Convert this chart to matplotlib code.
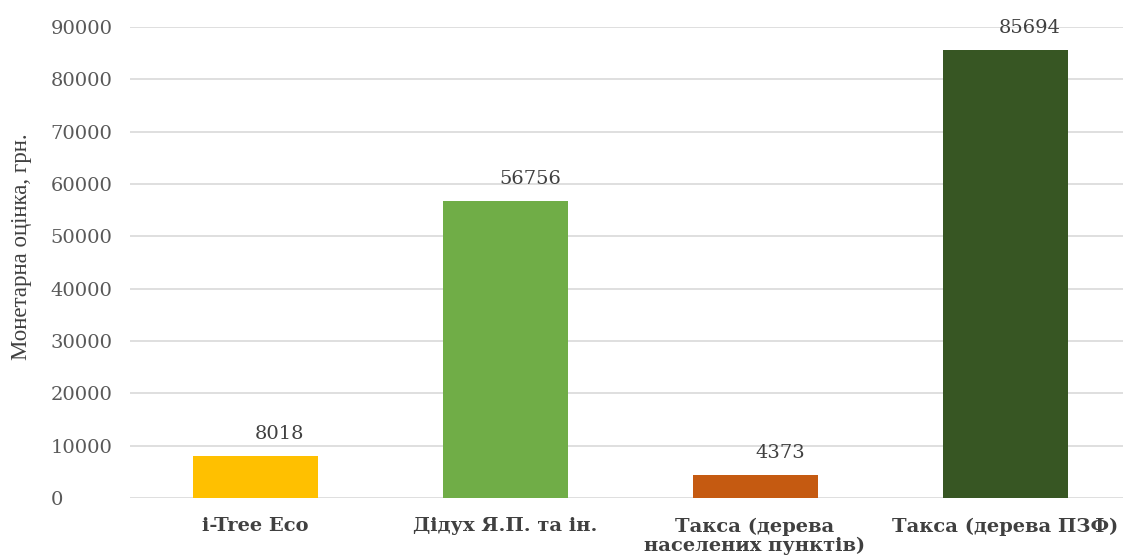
import matplotlib
matplotlib.use("Agg")
import matplotlib.pyplot as plt

categories = ["i-Tree Eco", "Дідух Я.П. та ін.", "Такса (дерева\nнаселених пунктів)", "Такса (дерева ПЗФ)"]
values = [8018, 56756, 4373, 85694]
colors = ["#FFC000", "#70AD47", "#C55A11", "#375623"]
yticks = [0, 10000, 20000, 30000, 40000, 50000, 60000, 70000, 80000, 90000]

plt.rcParams['font.family'] = ['DejaVu Serif', 'Liberation Serif']

W, H = 1123, 557
fig = plt.figure(figsize=(W / 100, H / 100), dpi=100)
left, right, bottom, top = 130, 1130, 59, 530
ax = fig.add_axes([left / W, bottom / H, (right - left) / W, (top - bottom) / H])

x = list(range(len(categories)))
bars = ax.bar(x, values, width=0.5, color=colors, zorder=3)
ax.set_xlim(-0.5, len(categories) - 0.5)
ax.set_ylim(0, 90000)
ax.set_yticks(yticks)
ax.set_yticklabels([str(v) for v in yticks], fontsize=14, color="#595959", ha="left")
ax.set_xticks(x)
ax.set_xticklabels(categories, fontsize=14, fontweight="bold", color="#404040", linespacing=1.05)
ax.tick_params(axis="both", length=0)
ax.tick_params(axis="y", pad=57)
ax.tick_params(axis="x", pad=14)
ax.grid(axis="y", color="#D9D9D9", linewidth=1.2, zorder=0)
for s in ax.spines.values():
    s.set_visible(False)

for xi, v in zip(x, values):
    ax.annotate(str(v), (xi, v), xytext=(25, 17), textcoords="offset pixels",
                ha="center", va="baseline", fontsize=14, color="#404040")

fig.text(22 / W, 1 - 247 / H, "Монетарна оцінка, грн.", rotation=90, ha="center", va="center",
         fontsize=16.5, color="#404040", family=["Liberation Serif", "DejaVu Serif"])

fig.savefig("out.png", dpi=100)
